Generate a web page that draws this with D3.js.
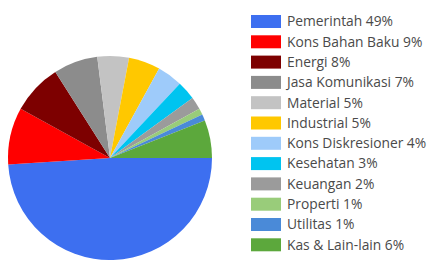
<!DOCTYPE html>
<html>
<head>
<meta charset="utf-8">
<script src="https://cdn.jsdelivr.net/npm/d3@7"></script>
<style>
  body { margin: 0; background: #fff; }
  .legendText { font-family: "Open Sans", sans-serif; font-size: 13.8px; fill: #4a4a4a; }
</style>
</head>
<body>
<script>
// sector names and portfolio weights (percent)
var sectors = ["Pemerintah", "Kons Bahan Baku", "Energi", "Jasa Komunikasi", "Material", "Industrial",
  "Kons Diskresioner", "Kesehatan", "Keuangan", "Properti", "Utilitas", "Kas & Lain-lain"];
var weights = [49, 9, 8, 7, 5, 5, 4, 3, 2, 1, 1, 6];
var colors = ["#3d6ff0", "#ff0000", "#7d0000", "#8c8c8c", "#c3c3c3", "#ffc800",
  "#9ecbfa", "#00c4f0", "#9b9b9b", "#99cc7a", "#4a8ad8", "#5ca83c"];

var w = 430;
var h = 260;
var cx = 110;
var cy = 158;
var radius = 102;

var svg = d3.select("body")
  .append("svg")
  .attr("width", w)
  .attr("height", h);

// pie starts at 3 o'clock and runs clockwise
var pie = d3.pie()
  .sort(null)
  .startAngle(Math.PI / 2)
  .endAngle(Math.PI / 2 + 2 * Math.PI);

var arc = d3.arc()
  .innerRadius(0)
  .outerRadius(radius);

svg.append("g")
  .attr("transform", "translate(" + cx + "," + cy + ")")
  .selectAll("path")
  .data(pie(weights))
  .enter()
  .append("path")
  .attr("d", arc)
  .attr("fill", function(d, i) { return colors[i]; });

// legend
var legendY = d3.scaleBand()
  .domain(sectors)
  .range([15, 15 + 20.3 * sectors.length]);

var legend = svg.selectAll(".legend")
  .data(sectors)
  .enter()
  .append("g")
  .attr("class", "legend")
  .attr("transform", function(d) { return "translate(251," + legendY(d) + ")"; });

legend.append("rect")
  .attr("width", 30)
  .attr("height", 13)
  .attr("fill", function(d, i) { return colors[i]; });

legend.append("text")
  .attr("class", "legendText")
  .attr("x", 36)
  .attr("y", 6.5)
  .attr("dy", ".35em")
  .text(function(d, i) { return d + " " + weights[i] + "%"; });
</script>
</body>
</html>
